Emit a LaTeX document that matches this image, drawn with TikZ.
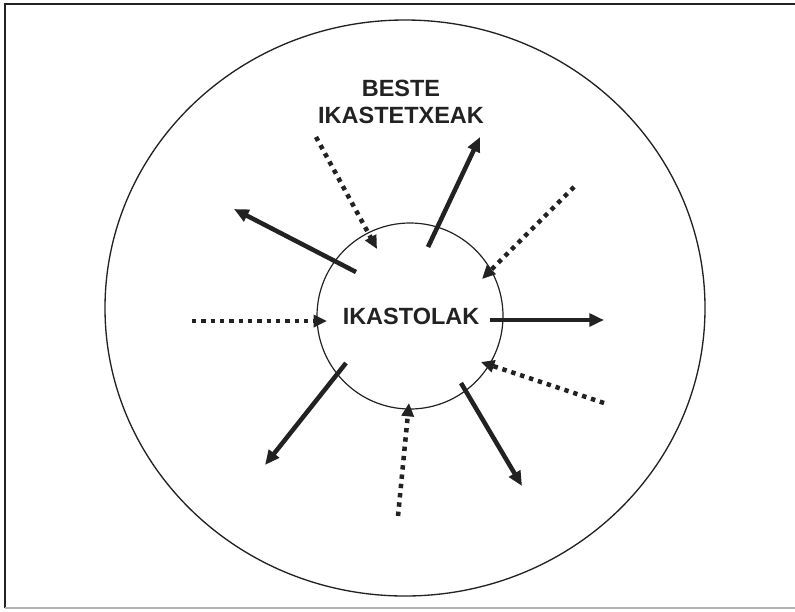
\documentclass[tikz,border=0pt]{standalone}
\usepackage{fontspec}
\setmainfont{Liberation Sans}
\usetikzlibrary{arrows.meta,shapes.geometric}
\definecolor{ink}{HTML}{222222}
\tikzset{
  solidarrow/.style={draw=ink,line width=3.4pt,-{Triangle[length=11pt,width=9.5pt]}},
  dotarrow/.style={draw=ink,line width=3.4pt,dash pattern=on 3.3pt off 3.7pt,-{Triangle[length=10pt,width=9pt]}},
  lbl/.style={font=\bfseries\fontsize{17.6}{21}\selectfont,text=ink,inner sep=0pt}
}
\begin{document}
\begin{tikzpicture}[x=0.75pt,y=-0.75pt]
\useasboundingbox (0,0) rectangle (795,611);
% frame
\draw[draw=ink,line width=1.5pt] (5,608) -- (5,4) -- (796,4);
\draw[draw=gray!60,line width=1pt] (5,608) -- (796,608);
% circles
\node[draw=ink,line width=1pt,ellipse,minimum width=600*0.75pt,minimum height=576*0.75pt,inner sep=0pt] (outer) at (405,308) {};
\node[draw=ink,line width=0.9pt,circle,minimum size=186*0.75pt,inner sep=0pt] (inner) at (410,316) {};
\node[lbl] (ik) at (411,316) {IKASTOLAK};
\node[lbl,align=center] (beste) at (401,102) {BESTE\\[-0.5pt]IKASTETXEAK};
% solid (outgoing) arrows
\coordinate (s1a) at (356,272); \coordinate (s1b) at (234,209);
\coordinate (s2a) at (428,247); \coordinate (s2b) at (480,137);
\coordinate (s3a) at (490,320); \coordinate (s3b) at (604,320);
\coordinate (s4a) at (346,363); \coordinate (s4b) at (265,465);
\coordinate (s5a) at (461,383); \coordinate (s5b) at (522,486);
\draw[solidarrow] (s1a) -- (s1b);
\draw[solidarrow] (s2a) -- (s2b);
\draw[solidarrow] (s3a) -- (s3b);
\draw[solidarrow] (s4a) -- (s4b);
\draw[solidarrow] (s5a) -- (s5b);
% dotted (incoming) arrows
\coordinate (d1a) at (316,137); \coordinate (d1b) at (377,249);
\coordinate (d2a) at (574,187); \coordinate (d2b) at (482,279);
\coordinate (d3a) at (192,321); \coordinate (d3b) at (327,321);
\coordinate (d4a) at (604,403); \coordinate (d4b) at (481,362);
\coordinate (d5a) at (398,516); \coordinate (d5b) at (409,403);
\draw[dotarrow] (d1a) -- (d1b);
\draw[dotarrow] (d2a) -- (d2b);
\draw[dotarrow] (d3a) -- (d3b);
\draw[dotarrow] (d4a) -- (d4b);
\draw[dotarrow] (d5a) -- (d5b);
\end{tikzpicture}
\end{document}
